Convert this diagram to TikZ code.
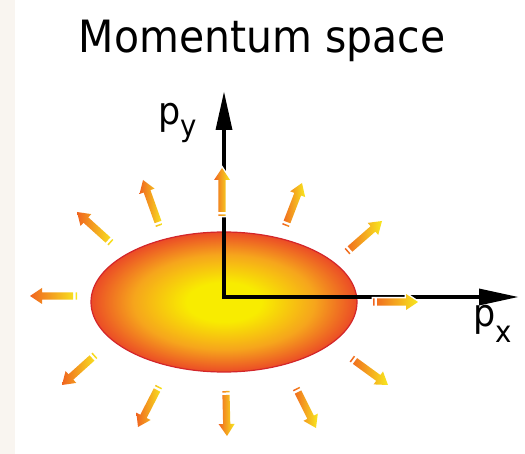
\documentclass[tikz,border=0pt]{standalone}
\usepackage{fontspec}
\newfontfamily\dfont[FakeStretch=0.92]{DejaVu Sans}
\usetikzlibrary{calc}
\definecolor{stripbg}{HTML}{F9F5F0}
\definecolor{sunY}{HTML}{F8EC00}
\definecolor{sunO}{HTML}{F6A51C}
\definecolor{sunR}{HTML}{EB4B26}
\definecolor{sunEdge}{HTML}{D3262A}
\definecolor{rayO}{HTML}{F0641F}
\definecolor{rayY}{HTML}{F8E81F}
\pgfdeclareradialshading{sunshade}{\pgfpoint{0bp}{0bp}}{color(0bp)=(sunY);color(7bp)=(sunY);color(17bp)=(sunO);color(25bp)=(sunR);color(50bp)=(sunR)}
\tikzset{
  raywhite/.style={draw=white, line width=3pt, line join=miter},
  rayfill/.style={left color=rayO, right color=rayY, shading angle=90},
  axisline/.style={line width=4pt, draw=black},
  axishead/.style={fill=black},
  lab/.style={inner sep=0pt, font=\dfont\fontsize{38}{38}\selectfont},
}
\newcommand\sunray[3]{%
  \coordinate (#1T) at #2;
  \coordinate (#1H) at #3;
  \coordinate (#1B) at ($(#1H)!12pt!(#1T)$);
  \coordinate (#1K) at ($(#1T)!-2.5pt!(#1H)$);
  \coordinate (#1L) at ($(#1T)!-4pt!(#1H)$);
  \def\raypath{($(#1T)!3.6pt!90:(#1H)$) -- ($(#1B)!3.6pt!90:(#1H)$) -- ($(#1B)!8pt!90:(#1H)$) -- (#1H) -- ($(#1B)!8pt!-90:(#1H)$) -- ($(#1B)!3.6pt!-90:(#1H)$) -- ($(#1T)!3.6pt!-90:(#1H)$) -- cycle ($(#1K)!3.6pt!90:(#1H)$) -- ($(#1L)!3.6pt!90:(#1H)$) -- ($(#1L)!3.6pt!-90:(#1H)$) -- ($(#1K)!3.6pt!-90:(#1H)$) -- cycle}%
  \path[raywhite] \raypath;
  \path[rayfill] \raypath;
}
\begin{document}
\begin{tikzpicture}[x=1pt,y=-1pt]
\useasboundingbox (0,0) rectangle (525,454);
\fill[white] (0,0) rectangle (525,454);
\fill[stripbg] (0,0) rectangle (15,454);
% title
\node[anchor=base, inner sep=0pt, font=\dfont\fontsize{44.5}{44.5}\selectfont] (title) at (262,53) {Momentum space};
% ellipse
\path[shading=sunshade, draw=sunEdge, line width=1.2pt] (224,302) ellipse [x radius=133, y radius=70];
\coordinate (sun) at (224,302);
% axes
\coordinate (O) at (224,296);
\coordinate (Ybase) at (224,130);
\coordinate (Ytip) at (224,92);
\coordinate (Xbase) at (479,297);
\coordinate (Xtip) at (518,297);
\draw[axisline, line cap=rect] (Ybase) |- (Xbase);
\fill[axishead] (Ytip) -- ($(Ybase)+(-8.5,0)$) -- ($(Ybase)+(8.5,0)$) -- cycle;
\fill[axishead] (Xtip) -- ($(Xbase)+(0,-8.5)$) -- ($(Xbase)+(0,8.5)$) -- cycle;
% labels
\node[lab, anchor=base west] (py) at (158,125) {p\raisebox{-12pt}{\fontsize{30}{30}\selectfont y}};
\node[lab, anchor=base west] (px) at (473,327) {p\raisebox{-16pt}{\fontsize{30}{30}\selectfont x}};
% rays
\sunray{ra}{(222,212)}{(222,168)}
\sunray{rb}{(158,222)}{(143,180)}
\sunray{rc}{(108,240)}{(77,212)}
\sunray{rd}{(73,296)}{(30,296)}
\sunray{re}{(92,358)}{(62,385)}
\sunray{rf}{(157,390)}{(138,427)}
\sunray{rg}{(226,395)}{(227,436)}
\sunray{rh}{(298,392)}{(316,428)}
\sunray{ri}{(355,361)}{(388,385)}
\sunray{rj}{(377,302)}{(418,302)}
\sunray{rk}{(350,249)}{(382,221)}
\sunray{rl}{(287,222)}{(302,183)}
\end{tikzpicture}
\end{document}
